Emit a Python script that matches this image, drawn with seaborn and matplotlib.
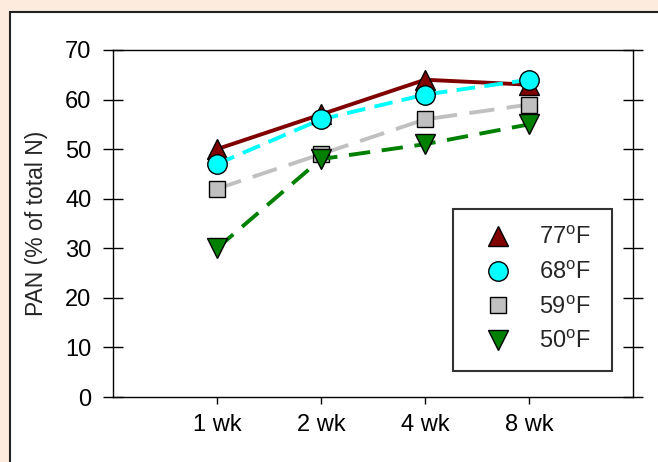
import numpy as np
import pandas as pd
import matplotlib
matplotlib.use("Agg")
import matplotlib.pyplot as plt
from matplotlib.lines import Line2D
from matplotlib.patches import Rectangle
import seaborn as sns

# Donnees
weeks = ["1 wk", "2 wk", "4 wk", "8 wk"]
temps = ["77$^\\mathrm{o}$F", "68$^\\mathrm{o}$F", "59$^\\mathrm{o}$F", "50$^\\mathrm{o}$F"]
pan_77 = [50, 57, 64, 63]
pan_68 = [47, 56, 61, 64]
pan_59 = [42, 49, 56, 59]
pan_50 = [30, 48, 51, 55]

colors = ["#800000", "#00FFFF", "#C0C0C0", "#008000"]
markers = ["^", "o", "s", "v"]
msizes = [14, 14, 12, 14]
dashes = ["", (4.8, 2.4), (6.5, 3.2), (5.5, 3.0)]

rows = []
for t, vals in zip(temps, [pan_77, pan_68, pan_59, pan_50]):
    for i, (w, v) in enumerate(zip(weeks, vals)):
        rows.append({"temp": t, "week": w, "pos": i + 1, "pan": v})
df = pd.DataFrame(rows)

sns.set_style("white")
plt.rcParams["font.family"] = ["Liberation Sans", "DejaVu Sans"]
plt.rcParams["mathtext.fontset"] = "custom"
plt.rcParams["mathtext.rm"] = "Liberation Sans"

fig = plt.figure(figsize=(6.58, 4.62), dpi=100)
fig.patch.set_facecolor("#FDEBDD")
# panneau blanc encadre
fig.patches.append(Rectangle((10 / 658, -0.1), 1.2, 1 - 12 / 462 + 0.1,
                             transform=fig.transFigure, facecolor="white",
                             edgecolor="#222222", linewidth=1.5, zorder=-10))
ax = fig.add_axes([113 / 658, 1 - 397 / 462, 520 / 658, 347 / 462])
ax.set_facecolor("white")

handles = []
for k, t in enumerate(temps):
    sub = df[df["temp"] == t]
    sns.lineplot(data=sub, x="pos", y="pan", ax=ax, color=colors[k],
                 linewidth=2.8, marker=markers[k], markersize=msizes[k],
                 markeredgecolor="black", markeredgewidth=1.0,
                 legend=False, zorder=3 + k)
    if dashes[k]:
        ax.lines[-1].set_dashes(dashes[k])
    else:
        ax.lines[-1].set_linestyle("-")
    handles.append(Line2D([], [], linestyle="none", marker=markers[k],
                          markersize=msizes[k], markerfacecolor=colors[k],
                          markeredgecolor="black", markeredgewidth=1.0, label=t))

ax.set_xlim(0, 5)
ax.set_ylim(0, 70)
ax.set_xticks(range(1, 5))
ax.set_xticklabels(weeks)
ax.set_yticks(range(0, 71, 10))
ax.set_xlabel("")
ax.set_ylabel("PAN (% of total N)", fontsize=16.5, labelpad=12)
ax.tick_params(axis="y", direction="inout", length=15, width=1.0,
               labelsize=17, left=True, right=True, pad=8, colors="black")
ax.tick_params(axis="x", direction="out", length=5, width=1.0,
               labelsize=17, bottom=True, pad=7, colors="black")
for s in ax.spines.values():
    s.set_visible(True)
    s.set_color("black")
    s.set_linewidth(1.0)

leg = ax.legend(handles=handles, loc="lower left",
                bbox_to_anchor=(0.654, 0.075, 0.306, 0.473), mode="expand",
                fontsize=17, frameon=True, fancybox=False, borderpad=0.75,
                labelspacing=0.5, handletextpad=0.57, handlelength=2.33,
                borderaxespad=0)
leg.get_frame().set_edgecolor("black")
leg.get_frame().set_linewidth(1.5)

fig.savefig("out.png", dpi=100, facecolor=fig.get_facecolor())
